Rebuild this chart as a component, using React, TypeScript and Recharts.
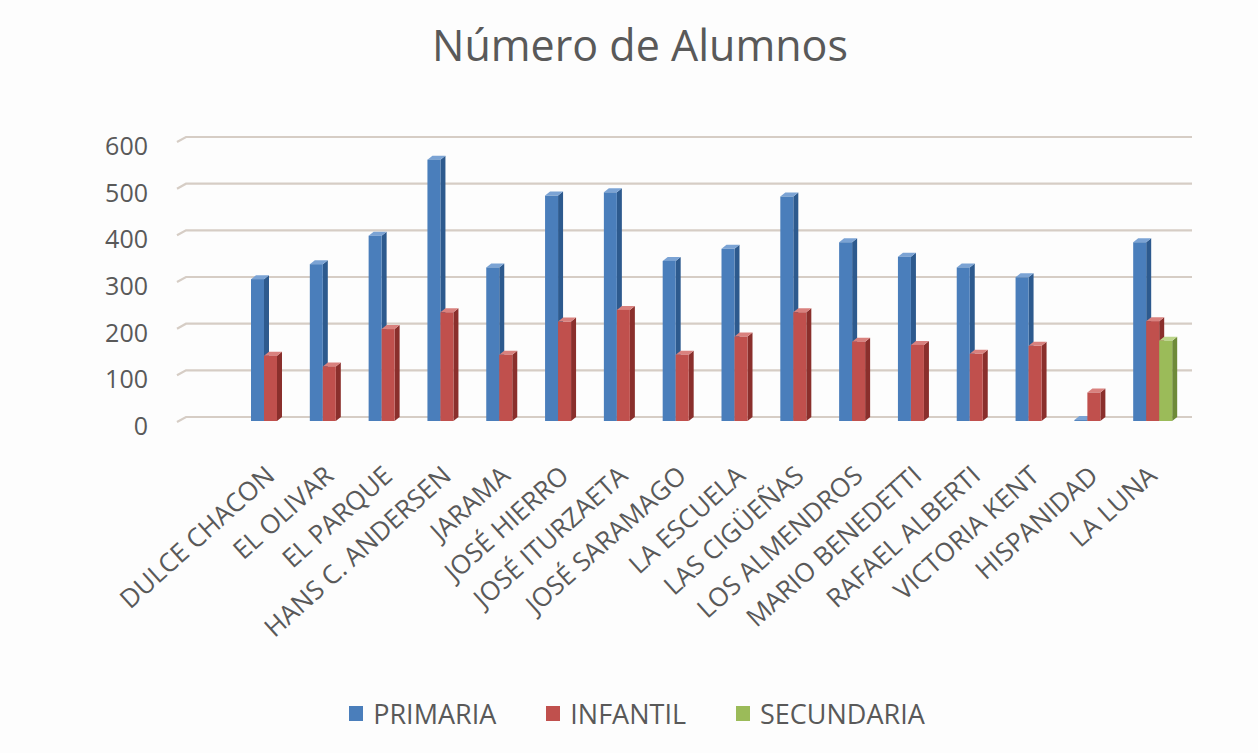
import React from 'react'
import { Bar, BarChart, CartesianGrid, Legend, XAxis, YAxis } from 'recharts'

const categories = [
  'DULCE CHACON',
  'EL OLIVAR',
  'EL PARQUE',
  'HANS C. ANDERSEN',
  'JARAMA',
  'JOSÉ HIERRO',
  'JOSÉ ITURZAETA',
  'JOSÉ SARAMAGO',
  'LA ESCUELA',
  'LAS CIGÜEÑAS',
  'LOS ALMENDROS',
  'MARIO BENEDETTI',
  'RAFAEL ALBERTI',
  'VICTORIA KENT',
  'HISPANIDAD',
  'LA LUNA',
]

const primaria = [304, 336, 397, 560, 329, 483, 490, 343, 369, 481, 383, 352, 329, 308, 2, 383]
const infantil = [140, 117, 197, 233, 142, 213, 238, 142, 181, 233, 170, 163, 144, 161, 61, 214]
const secundaria: (number | null)[] = [
  null, null, null, null, null, null, null, null, null, null, null, null, null, null, null, 172,
]

const yTicks = [0, 100, 200, 300, 400, 500, 600]

const FONT = '"Open Sans", sans-serif'
const TEXT = '#595959'

const series = [
  { key: 'primaria', name: 'PRIMARIA', front: '#4a7ebb', side: '#2d5a8e', top: '#7ba3d4' },
  { key: 'infantil', name: 'INFANTIL', front: '#c0504d', side: '#8a2f2c', top: '#d9817e' },
  { key: 'secundaria', name: 'SECUNDARIA', front: '#9bbb59', side: '#6e8a38', top: '#bcd58a' },
]

const data = categories.map((name, i) => ({
  name,
  primaria: primaria[i],
  infantil: infantil[i],
  secundaria: secundaria[i],
}))

const DEPTH_X = 5
const DEPTH_Y = 4

function Bar3D(props: any) {
  const { x, y, width, height, front, side, top } = props
  if (x == null || y == null || !width || height == null || height <= 0) return null
  const r = x + width
  const b = y + height
  return (
    <g>
      <polygon
        points={`${r},${y} ${r + DEPTH_X},${y - DEPTH_Y} ${r + DEPTH_X},${b - DEPTH_Y} ${r},${b}`}
        fill={side}
      />
      <polygon
        points={`${x},${y} ${x + DEPTH_X},${y - DEPTH_Y} ${r + DEPTH_X},${y - DEPTH_Y} ${r},${y}`}
        fill={top}
      />
      <rect x={x} y={y} width={width} height={height} fill={front} />
    </g>
  )
}

function XTick({ x, y, payload }: any) {
  return (
    <g transform={`translate(${x + 6},${y + 57})`}>
      <text
        transform="rotate(-42)"
        textAnchor="end"
        fontSize={26}
        fontFamily={FONT}
        fill={TEXT}
      >
        {payload.value}
      </text>
    </g>
  )
}

function YTick({ x, y, payload }: any) {
  return (
    <text x={x} y={y} dy={14} textAnchor="end" fontSize={25} fontFamily={FONT} fill={TEXT}>
      {payload.value}
    </text>
  )
}

function gridLine(p: any) {
  const { x1, x2, y1, index } = p
  const yb = y1 - DEPTH_Y
  return (
    <path
      key={`grid-${index}`}
      d={`M${x1 - 9},${y1 + 1} L${x1},${yb} L${x2},${yb}`}
      fill="none"
      stroke="#d6cdc5"
      strokeWidth={2.2}
    />
  )
}

function LegendContent() {
  return (
    <div
      style={{
        display: 'flex',
        justifyContent: 'center',
        alignItems: 'center',
        paddingLeft: 16,
        fontFamily: FONT,
        fontSize: 27,
        color: TEXT,
      }}
    >
      {series.map((s, i) => (
        <div
          key={s.key}
          style={{ display: 'flex', alignItems: 'center', marginLeft: i === 0 ? 0 : 50 }}
        >
          <span style={{ width: 14, height: 15, background: s.front, marginRight: 10 }} />
          <span>{s.name}</span>
        </div>
      ))}
    </div>
  )
}

export default function App() {
  return (
    <div
      style={{
        position: 'absolute',
        left: 0,
        top: 0,
        width: 1258,
        height: 753,
        background: '#fdfdfd',
        overflow: 'hidden',
      }}
    >
      <div
        style={{
          position: 'absolute',
          left: 0,
          top: 24,
          width: 1280,
          textAlign: 'center',
          fontFamily: FONT,
          fontSize: 43,
          lineHeight: '42px',
          color: TEXT,
        }}
      >
        Número de Alumnos
      </div>
      <BarChart
        width={1258}
        height={753}
        data={data}
        margin={{ top: 141, right: 66, bottom: 0, left: 100 }}
        barSize={13}
        barGap={0}
      >
        <CartesianGrid vertical={false} horizontal={gridLine} />
        <XAxis
          dataKey="name"
          height={332}
          interval={0}
          axisLine={false}
          tickLine={false}
          tickSize={0}
          tickMargin={0}
          padding={{ left: 55, right: 10 }}
          tick={<XTick />}
        />
        <YAxis
          width={86}
          domain={[0, 600]}
          ticks={yTicks}
          axisLine={false}
          tickLine={false}
          tickSize={0}
          tickMargin={38}
          tick={<YTick />}
        />
        <Legend
          layout="horizontal"
          align="center"
          verticalAlign="middle"
          wrapperStyle={{ left: 0, top: 695, width: 1258 }}
          content={<LegendContent />}
        />
        {series.map(s => (
          <Bar
            key={s.key}
            dataKey={s.key}
            name={s.name}
            fill={s.front}
            isAnimationActive={false}
            shape={(p: any) => <Bar3D {...p} front={s.front} side={s.side} top={s.top} />}
          />
        ))}
      </BarChart>
    </div>
  )
}
